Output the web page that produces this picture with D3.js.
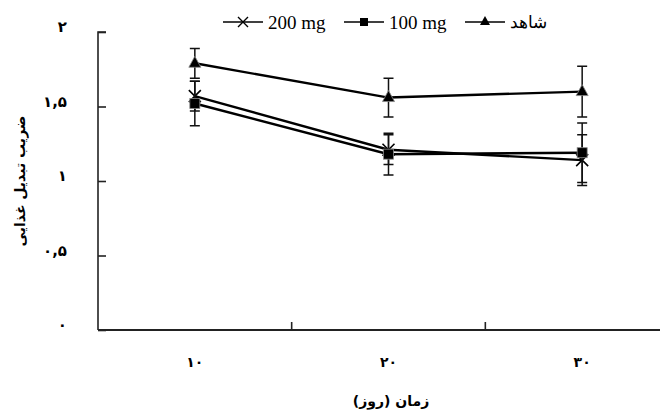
<!DOCTYPE html>
<html><head><meta charset="utf-8">
<script src="https://cdn.jsdelivr.net/npm/d3@7"></script>
<style>
html,body{margin:0;padding:0;background:#fff;}
svg{display:block;}
</style></head>
<body>
<svg id="chart" width="660" height="410"></svg>
<script>
const categories = ["10", "20", "30"];
const xTickLabels = ["۱۰", "۲۰", "۳۰"];
const yTickValues = [0, 0.5, 1, 1.5, 2];
const yTickLabels = ["۰", "۰,۵", "۱", "۱,۵", "۲"];
const seriesNames = ["200 mg", "100 mg", "شاهد"];
const seriesMarkers = ["cross", "square", "triangle"];
const values200 = [1.57, 1.21, 1.14];
const errors200 = [0.10, 0.10, 0.17];
const values100 = [1.52, 1.18, 1.19];
const errors100 = [0.15, 0.14, 0.20];
const valuesControl = [1.79, 1.56, 1.60];
const errorsControl = [0.10, 0.13, 0.17];
const yTitle = "ضریب تبدیل غذایی";
const xTitle = "زمان (روز)";

(function () {
const series = [
  {name: seriesNames[0], marker: seriesMarkers[0], values: values200, errors: errors200},
  {name: seriesNames[1], marker: seriesMarkers[1], values: values100, errors: errors100},
  {name: seriesNames[2], marker: seriesMarkers[2], values: valuesControl, errors: errorsControl}
];

const svg = d3.select("#chart");
const mLeft = 98, mRight = 679, mTop = 32, mBottom = 330;
const x = d3.scaleBand().domain(categories).range([mLeft, mRight]);
const y = d3.scaleLinear().domain([0, 2]).range([mBottom, mTop]);
const cx = c => x(c) + x.bandwidth() / 2;

// axes
const yAxis = svg.append("g").attr("transform", `translate(${mLeft},0)`)
  .call(d3.axisRight(y).tickValues(yTickValues).tickSize(8).tickFormat(""));
yAxis.select(".domain").attr("d", `M8,${mTop}H0V${mBottom}`).attr("stroke", "#222").attr("stroke-width", 1.6);
yAxis.selectAll(".tick line").attr("stroke", "#222").attr("stroke-width", 1.6);

const xAxis = svg.append("g").attr("transform", `translate(0,${mBottom})`)
  .call(d3.axisTop(x).tickValues([]).tickSize(0));
xAxis.select(".domain").attr("d", `M${mLeft},0H${mRight}`).attr("stroke", "#222").attr("stroke-width", 1.8);
xAxis.selectAll(".bt").data(categories.slice(1)).enter().append("line")
  .attr("x1", d => x(d)).attr("x2", d => x(d)).attr("y1", 0).attr("y2", -8)
  .attr("stroke", "#222").attr("stroke-width", 1.6);

// tick labels
svg.append("g").selectAll("text").data(yTickValues).enter().append("text")
  .attr("x", 67).attr("y", d => y(d) - 5).attr("dy", "0.35em")
  .attr("text-anchor", "end")
  .style("font-family", "DejaVu Sans, sans-serif").style("font-weight", "bold").style("font-size", "15px")
  .text((d, i) => yTickLabels[i]);

svg.append("g").selectAll("text").data(categories).enter().append("text")
  .attr("x", d => cx(d)).attr("y", 362).attr("dy", "0.35em")
  .attr("text-anchor", "middle")
  .style("font-family", "DejaVu Sans, sans-serif").style("font-weight", "bold").style("font-size", "14px")
  .style("letter-spacing", "5px")
  .text((d, i) => xTickLabels[i]);

// titles
svg.append("text").attr("x", 391).attr("y", 401).attr("text-anchor", "middle")
  .attr("dy", "0.35em")
  .style("font-family", "DejaVu Sans, sans-serif").style("font-weight", "bold").style("font-size", "14px")
  .text(xTitle);
svg.append("text").attr("transform", "translate(20,181) rotate(-90)").attr("text-anchor", "middle")
  .attr("dy", "0.35em")
  .style("font-family", "DejaVu Sans, sans-serif").style("font-weight", "bold").style("font-size", "14px")
  .text(yTitle);

function drawMarker(g, type, px, py) {
  if (type === "cross") {
    g.append("path").attr("d", `M${px-6},${py-6}L${px+6},${py+6}M${px-6},${py+6}L${px+6},${py-6}`)
      .attr("stroke", "#000").attr("stroke-width", 1.6).attr("fill", "none");
  } else if (type === "square") {
    g.append("rect").attr("x", px-5).attr("y", py-5).attr("width", 10).attr("height", 10)
      .attr("fill", "#000").attr("stroke", "#888").attr("stroke-width", 0.8);
  } else {
    g.append("path").attr("d", `M${px},${py-7}L${px+6},${py+4}L${px-6},${py+4}Z`)
      .attr("fill", "#000").attr("stroke", "#888").attr("stroke-width", 0.8);
  }
}

const line = d3.line().x((d, i) => cx(categories[i])).y(d => y(d));
const plot = svg.append("g");
series.forEach(s => {
  const g = plot.append("g");
  s.values.forEach((v, i) => {
    const px = cx(categories[i]);
    const e = s.errors[i];
    g.append("path")
      .attr("d", `M${px},${y(v+e)}V${y(v-e)}M${px-5},${y(v+e)}H${px+5}M${px-5},${y(v-e)}H${px+5}`)
      .attr("stroke", "#111").attr("stroke-width", 1.5).attr("fill", "none");
  });
  g.append("path").datum(s.values).attr("d", line)
    .attr("fill", "none").attr("stroke", "#000").attr("stroke-width", 2.4);
  s.values.forEach((v, i) => drawMarker(g, s.marker, cx(categories[i]), y(v)));
});

// legend
const legendLineStarts = [223, 344, 465];
const leg = svg.append("g");
series.forEach((s, i) => {
  const lx = legendLineStarts[i], ly = 22;
  leg.append("line").attr("x1", lx).attr("x2", lx + 40).attr("y1", ly).attr("y2", ly)
    .attr("stroke", "#000").attr("stroke-width", 1.6);
  if (s.marker === "cross") {
    leg.append("path").attr("d", `M${lx+15},${ly-5}L${lx+25},${ly+5}M${lx+15},${ly+5}L${lx+25},${ly-5}`)
      .attr("stroke", "#000").attr("stroke-width", 1.4);
  } else if (s.marker === "square") {
    leg.append("rect").attr("x", lx+16).attr("y", ly-4).attr("width", 8).attr("height", 8).attr("fill", "#000");
  } else {
    leg.append("path").attr("d", `M${lx+20},${ly-6}L${lx+25},${ly+3}L${lx+15},${ly+3}Z`).attr("fill", "#000");
  }
  leg.append("text").attr("x", lx + 45).attr("y", ly).attr("dy", "0.35em")
    .style("font-family", "Liberation Serif, serif").style("font-size", i < 2 ? "19px" : "17px")
    .text(s.name);
});
})();
</script>
</body></html>
